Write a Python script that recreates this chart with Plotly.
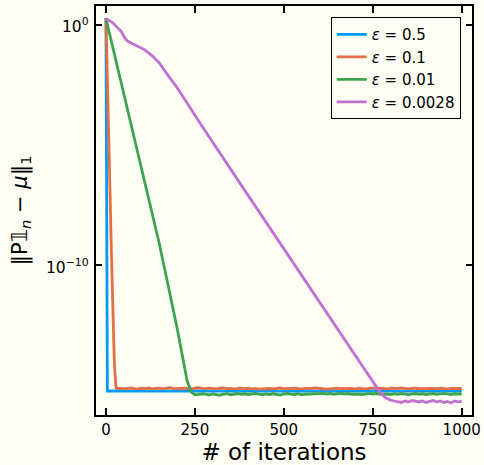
import math
import plotly.graph_objects as go

BG = "#fefef4"

# ---------------- data ----------------
labels = ["0.5", "0.1", "0.01", "0.0028"]
colors = ["#009AFA", "#E36F47", "#3EA44E", "#C271D2"]

# eps = 0.5
iters_a = [0, 1, 2, 3, 4, 100, 200, 300, 400, 500, 600, 700, 800, 900, 1000]
vals_a = [1.9, 3.2e-4, 3.2e-8, 3.2e-12, 6.0e-16, 6.0e-16, 6.0e-16, 6.0e-16,
          6.0e-16, 6.0e-16, 6.0e-16, 6.0e-16, 6.0e-16, 6.0e-16, 6.0e-16]

# eps = 0.1
iters_b = [0, 2, 4, 6, 8, 10, 12, 14, 16, 18, 20, 22, 24, 26, 28, 30] + list(range(40, 1001, 10))
vals_b = [1.9, 0.16, 1.26e-2, 1.1e-3, 5e-5, 1.6e-6, 5e-8, 2e-9, 8e-11, 6.3e-12,
          6.3e-13, 6.3e-14, 6.3e-15, 1.4e-15, 8.9e-16, 7.6e-16,
          7.9e-16, 7.4e-16, 7.7e-16, 8.1e-16, 7.5e-16, 7.3e-16, 7.8e-16, 7.6e-16, 8.0e-16, 7.4e-16,
          7.7e-16, 7.9e-16, 7.3e-16, 7.6e-16, 8.2e-16, 7.5e-16, 7.7e-16, 7.4e-16, 7.9e-16, 7.6e-16,
          7.2e-16, 7.8e-16, 8.3e-16, 7.7e-16, 7.5e-16, 7.9e-16, 7.6e-16, 7.4e-16, 7.8e-16, 8.0e-16,
          7.5e-16, 7.7e-16, 7.3e-16, 7.6e-16, 7.9e-16, 7.5e-16, 7.8e-16, 7.4e-16, 7.6e-16, 7.2e-16,
          7.5e-16, 7.8e-16, 7.6e-16, 7.3e-16, 7.7e-16, 8.1e-16, 7.5e-16, 7.7e-16, 7.4e-16, 7.9e-16,
          7.6e-16, 7.3e-16, 7.7e-16, 7.5e-16, 7.8e-16, 8.0e-16, 7.6e-16, 7.3e-16, 7.1e-16, 7.4e-16,
          7.7e-16, 7.9e-16, 7.5e-16, 7.6e-16, 8.1e-16, 7.7e-16, 7.4e-16, 7.8e-16, 7.6e-16, 7.3e-16,
          7.7e-16, 8.0e-16, 7.5e-16, 7.9e-16, 7.6e-16, 7.4e-16, 7.8e-16, 7.5e-16, 7.7e-16, 8.0e-16,
          7.6e-16, 7.3e-16, 7.7e-16, 7.9e-16, 7.5e-16, 7.6e-16, 7.8e-16, 7.4e-16, 7.7e-16, 7.5e-16,
          7.9e-16, 7.6e-16, 7.3e-16, 7.7e-16, 7.5e-16, 7.8e-16, 7.6e-16]

# eps = 0.01
iters_c = [0, 50, 100, 150, 200, 228, 240, 250] + list(range(260, 1001, 10))
vals_c = [1.82, 1.26e-3, 1.0e-6, 7.9e-10, 2.5e-13, 1.6e-15, 5.4e-16, 4.2e-16,
          4.3e-16, 4.6e-16, 4.4e-16, 4.1e-16, 4.5e-16, 4.3e-16, 4.0e-16, 4.4e-16, 4.6e-16, 4.2e-16,
          4.5e-16, 4.7e-16, 4.4e-16, 4.6e-16, 4.3e-16, 4.5e-16, 4.8e-16, 4.4e-16, 4.2e-16, 4.5e-16,
          4.3e-16, 4.6e-16, 4.4e-16, 4.1e-16, 4.5e-16, 4.7e-16, 4.4e-16, 4.3e-16, 4.6e-16, 4.2e-16,
          4.4e-16, 4.5e-16, 4.3e-16, 4.7e-16, 4.6e-16, 4.8e-16, 4.5e-16, 4.7e-16, 4.4e-16, 4.6e-16,
          4.8e-16, 4.5e-16, 4.7e-16, 4.4e-16, 4.6e-16, 4.5e-16, 4.3e-16, 4.6e-16, 4.8e-16, 4.5e-16,
          4.7e-16, 4.4e-16, 4.6e-16, 4.5e-16, 4.3e-16, 4.6e-16, 4.4e-16, 4.7e-16, 4.5e-16, 4.2e-16,
          4.5e-16, 4.7e-16, 4.4e-16, 4.6e-16, 4.3e-16, 4.5e-16, 4.7e-16, 4.4e-16, 4.6e-16, 4.8e-16,
          4.5e-16, 4.3e-16, 4.6e-16, 4.4e-16, 4.5e-16]

# eps = 0.0028
iters_d = [0, 19, 42, 56, 65, 84, 108, 131, 150, 173, 197, 225, 267, 400, 500, 600, 700,
           760, 770, 785] + list(range(800, 1001, 10))
vals_d = [1.82, 1.2, 0.55, 0.245, 0.19, 0.138, 0.093, 0.050, 0.026, 8.5e-3, 2.8e-3, 6.6e-4,
          7.1e-5, 7.9e-8, 4.9e-10, 3.0e-12, 1.86e-14, 8.7e-16, 5.4e-16, 3.2e-16,
          2.5e-16, 2.3e-16, 2.2e-16, 2.0e-16, 2.3e-16, 2.1e-16, 2.4e-16, 2.2e-16, 2.1e-16, 2.3e-16,
          2.0e-16, 2.2e-16, 2.4e-16, 2.1e-16, 2.3e-16, 2.0e-16, 2.2e-16, 1.9e-16, 2.3e-16, 2.1e-16,
          2.2e-16]

x_ticks = [0, 250, 500, 750, 1000]
y_tickvals = [1, 1e-10]
y_ticktext = ["10<sup>0</sup>", "10<sup>−10</sup>"]

series = [(iters_a, vals_a), (iters_b, vals_b), (iters_c, vals_c), (iters_d, vals_d)]

# ---------------- figure ----------------
fig = go.Figure()
for (xs, ys), lab, col in zip(series, labels, colors):
    assert len(xs) == len(ys)
    fig.add_trace(go.Scatter(x=xs, y=ys, mode="lines", name=f"<i>ε</i> = {lab}",
                             line=dict(color=col, width=2.8)))

font_family = "DejaVu Sans"
fig.update_layout(
    width=484, height=465,
    margin=dict(l=96, r=12, t=6, b=50),
    paper_bgcolor=BG, plot_bgcolor=BG,
    font=dict(family=font_family, color="black", size=15),
    legend=dict(x=0.97, y=0.973, xanchor="right", yanchor="top",
                bgcolor=BG, bordercolor="black", borderwidth=1,
                font=dict(size=15, family=font_family), tracegroupgap=0,
                itemwidth=30),
    showlegend=True,
)
fig.update_xaxes(
    range=[-28, 1029], tickvals=x_ticks, ticks="inside", ticklen=7, tickwidth=1.5,
    tickcolor="black", showline=True, linecolor="black", linewidth=1.5, mirror="ticks",
    showgrid=False, zeroline=False, automargin=False,
    title=dict(text="# of iterations", font=dict(size=23), standoff=2),
)
fig.update_yaxes(
    type="log", range=[-16.22, 0.78], tickvals=y_tickvals, showticklabels=False,
    ticks="inside", ticklen=6, tickwidth=1.5, tickcolor="black",
    showline=True, linecolor="black", linewidth=1.5, mirror="ticks",
    showgrid=False, zeroline=False, automargin=False,
    title=dict(text="‖P𝟙<sub><i>n</i></sub> − <i>μ</i>‖<sub>1</sub>", font=dict(size=21), standoff=61),
)
# y tick labels as right-aligned annotations (log-axis coordinates)
for tv, tt in zip(y_tickvals, y_ticktext):
    fig.add_annotation(x=0, xref="paper", y=math.log10(tv), yref="y", text=tt,
                       showarrow=False, xanchor="right", yanchor="middle", xshift=-5, yshift=-1,
                       font=dict(size=15.5, family=font_family, color="black"))

fig.write_html("out.html", config={"displayModeBar": False},
               post_script="document.body.style.margin='0';document.body.style.background='%s';" % BG)
